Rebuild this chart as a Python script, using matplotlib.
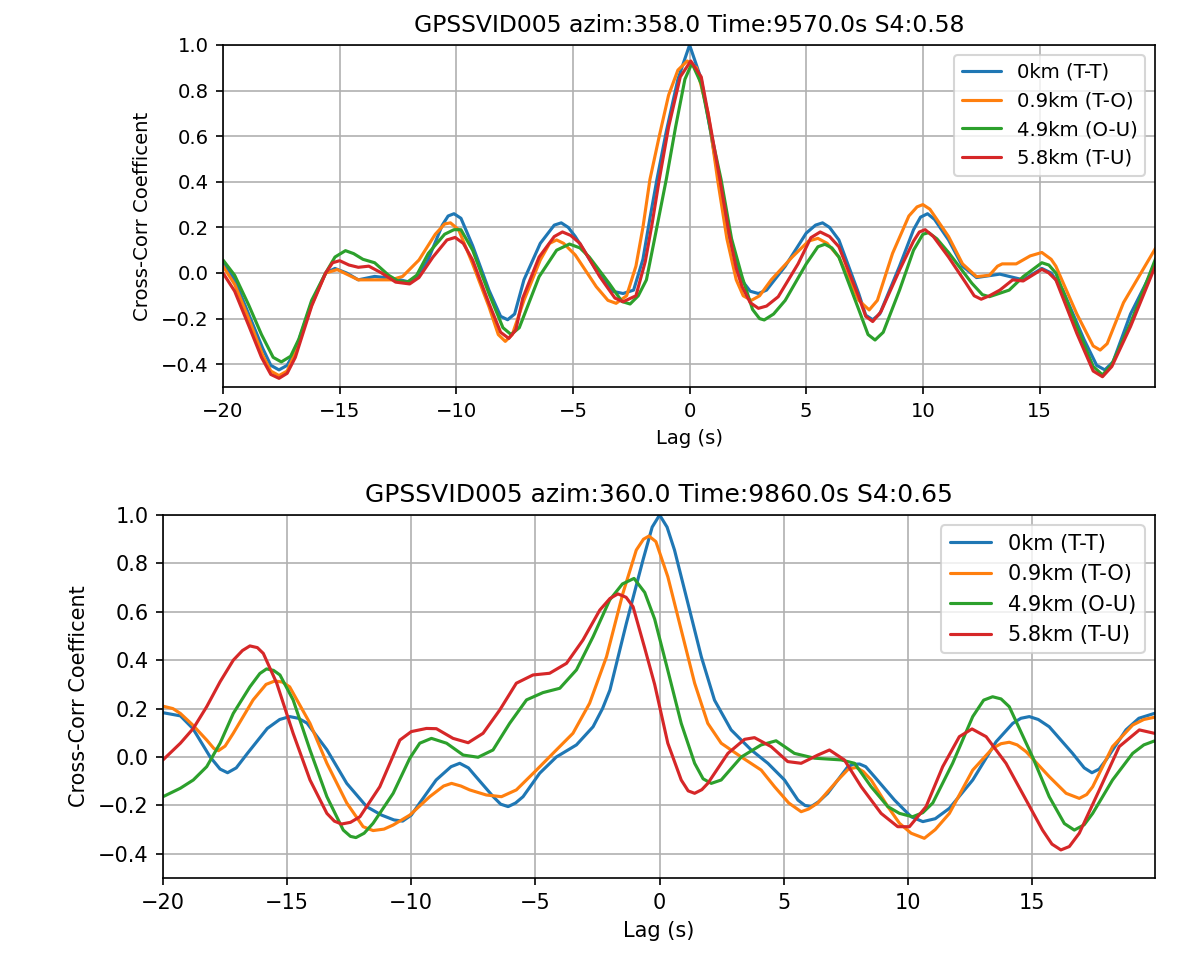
import matplotlib
matplotlib.use("Agg")
import matplotlib.pyplot as plt

labels = ["0km (T-T)", "0.9km (T-O)", "4.9km (O-U)", "5.8km (T-U)"]
colors = ["#1f77b4", "#ff7f0e", "#2ca02c", "#d62728"]

title_top = "GPSSVID005 azim:358.0 Time:9570.0s S4:0.58"
title_bot = "GPSSVID005 azim:360.0 Time:9860.0s S4:0.65"

# ---- top panel (lag s, coefficient) ----
top_tt = [(-20, 0.04), (-19.5, -0.03), (-18.9, -0.18), (-18.3, -0.33), (-17.95, -0.405), (-17.6, -0.425),
          (-17.25, -0.405), (-16.9, -0.34), (-16.2, -0.13), (-15.6, 0.0), (-15.2, 0.02), (-14.7, 0.0),
          (-14.2, -0.03), (-13.5, -0.015), (-12.6, -0.025), (-12.0, -0.04), (-11.6, -0.01), (-11.2, 0.06),
          (-10.6, 0.21), (-10.35, 0.25), (-10.1, 0.26), (-9.8, 0.24), (-9.3, 0.12), (-8.6, -0.075),
          (-8.1, -0.19), (-7.8, -0.205), (-7.5, -0.18), (-7.1, -0.03), (-6.4, 0.13), (-5.8, 0.21),
          (-5.5, 0.22), (-5.2, 0.2), (-4.9, 0.16), (-4.0, 0.013), (-3.3, -0.08), (-2.85, -0.09),
          (-2.4, -0.075), (-2.0, 0.06), (-1.7, 0.24), (-1.4, 0.41), (-1.0, 0.62), (-0.5, 0.85), (0.0, 1.0),
          (0.5, 0.85), (0.9, 0.62), (1.25, 0.41), (1.6, 0.2), (2.0, 0.04), (2.3, -0.04), (2.6, -0.08),
          (2.95, -0.09), (3.3, -0.075), (4.1, 0.03), (5.0, 0.175), (5.4, 0.21), (5.7, 0.22), (6.0, 0.2),
          (6.4, 0.145), (7.25, -0.09), (7.55, -0.185), (7.85, -0.205), (8.15, -0.18), (9.0, 0.03),
          (9.6, 0.19), (9.9, 0.245), (10.2, 0.26), (10.5, 0.235), (11.1, 0.145), (11.7, 0.03),
          (12.3, -0.02), (13.3, -0.005), (14.3, -0.03), (15.1, 0.02), (15.5, 0.0), (16.0, -0.075),
          (16.9, -0.29), (17.45, -0.405), (17.8, -0.425), (18.15, -0.39), (18.9, -0.18), (19.98, 0.04)]
top_to = [(-20, 0.03), (-19.5, -0.05), (-18.9, -0.2), (-18.3, -0.36), (-17.95, -0.43), (-17.6, -0.45),
          (-17.25, -0.43), (-16.9, -0.35), (-16.2, -0.14), (-15.6, 0.0), (-15.1, 0.015), (-14.6, -0.01),
          (-14.2, -0.03), (-12.8, -0.03), (-12.3, -0.015), (-11.6, 0.057), (-10.9, 0.17), (-10.5, 0.215),
          (-10.25, 0.22), (-9.9, 0.19), (-9.3, 0.04), (-8.6, -0.148), (-8.2, -0.27), (-7.9, -0.30),
          (-7.6, -0.27), (-7.1, -0.12), (-6.4, 0.057), (-6.0, 0.13), (-5.7, 0.145), (-5.4, 0.13),
          (-4.9, 0.079), (-4.0, -0.06), (-3.5, -0.12), (-3.15, -0.133), (-2.7, -0.1), (-2.3, 0.03),
          (-2.0, 0.2), (-1.7, 0.41), (-1.3, 0.6), (-0.9, 0.78), (-0.5, 0.89), (-0.1, 0.93), (0.3, 0.9),
          (0.8, 0.7), (1.2, 0.41), (1.6, 0.15), (2.0, -0.03), (2.3, -0.1), (2.65, -0.12), (3.0, -0.1),
          (3.5, -0.03), (4.4, 0.07), (5.1, 0.14), (5.5, 0.152), (5.9, 0.13), (6.4, 0.07), (7.25, -0.12),
          (7.7, -0.162), (8.05, -0.12), (8.7, 0.086), (9.4, 0.25), (9.75, 0.29), (10.0, 0.30), (10.3, 0.28),
          (11.1, 0.16), (11.7, 0.04), (12.3, -0.016), (12.85, -0.01), (13.2, 0.03), (13.4, 0.04),
          (14.0, 0.04), (14.6, 0.075), (15.1, 0.09), (15.5, 0.06), (15.7, 0.03), (16.6, -0.18),
          (17.3, -0.32), (17.6, -0.338), (17.9, -0.31), (18.6, -0.13), (19.98, 0.11)]
top_ou = [(-20, 0.057), (-19.5, -0.01), (-18.9, -0.14), (-18.35, -0.27), (-17.85, -0.37), (-17.5, -0.39),
          (-17.1, -0.365), (-16.75, -0.29), (-16.2, -0.12), (-15.6, 0.0), (-15.2, 0.07), (-14.75, 0.098),
          (-14.4, 0.085), (-14.0, 0.06), (-13.5, 0.045), (-12.9, -0.01), (-12.5, -0.035), (-12.1, -0.04),
          (-11.7, -0.01), (-11.2, 0.086), (-10.5, 0.17), (-10.1, 0.19), (-9.8, 0.19), (-9.3, 0.1),
          (-8.6, -0.09), (-8.0, -0.24), (-7.65, -0.27), (-7.3, -0.24), (-6.45, -0.016), (-5.7, 0.1),
          (-5.15, 0.127), (-4.7, 0.11), (-4.3, 0.07), (-3.45, -0.045), (-2.9, -0.125), (-2.55, -0.136),
          (-2.2, -0.1), (-1.85, -0.03), (-1.5, 0.15), (-1.0, 0.41), (-0.6, 0.64), (-0.2, 0.85), (0.1, 0.92),
          (0.5, 0.83), (0.95, 0.6), (1.35, 0.41), (1.8, 0.15), (2.25, -0.016), (2.7, -0.16), (3.0, -0.2),
          (3.2, -0.206), (3.6, -0.18), (4.1, -0.12), (5.0, 0.04), (5.5, 0.115), (5.8, 0.126), (6.1, 0.11),
          (6.4, 0.07), (7.25, -0.16), (7.65, -0.27), (7.95, -0.294), (8.3, -0.26), (9.0, -0.075),
          (9.6, 0.1), (10.0, 0.17), (10.25, 0.177), (10.6, 0.15), (11.1, 0.09), (12.1, -0.045),
          (12.55, -0.095), (12.85, -0.104), (13.7, -0.075), (14.3, -0.016), (15.1, 0.045), (15.4, 0.035),
          (15.7, 0.0), (16.6, -0.235), (17.3, -0.41), (17.7, -0.447), (18.1, -0.4), (18.9, -0.22),
          (19.98, 0.064)]
top_tu = [(-20, 0.0), (-19.5, -0.08), (-18.9, -0.23), (-18.35, -0.37), (-17.95, -0.445), (-17.6, -0.462),
          (-17.25, -0.44), (-16.9, -0.37), (-16.2, -0.145), (-15.6, 0.0), (-15.3, 0.045), (-15.0, 0.054),
          (-14.6, 0.035), (-14.2, 0.025), (-13.75, 0.03), (-13.2, 0.0), (-12.6, -0.04), (-12.0, -0.048),
          (-11.6, -0.02), (-11.0, 0.07), (-10.4, 0.145), (-10.05, 0.156), (-9.7, 0.13), (-9.3, 0.057),
          (-8.6, -0.133), (-8.1, -0.26), (-7.75, -0.287), (-7.45, -0.25), (-7.15, -0.11), (-6.45, 0.07),
          (-5.8, 0.16), (-5.45, 0.18), (-5.1, 0.165), (-4.7, 0.13), (-3.85, -0.016), (-3.2, -0.11),
          (-2.85, -0.126), (-2.3, -0.1), (-1.9, 0.05), (-1.6, 0.22), (-1.3, 0.41), (-0.9, 0.64),
          (-0.4, 0.86), (0.05, 0.93), (0.5, 0.86), (0.9, 0.64), (1.3, 0.41), (1.7, 0.17), (2.0, 0.02),
          (2.25, -0.06), (2.6, -0.13), (2.95, -0.155), (3.3, -0.145), (3.8, -0.104), (4.65, 0.04),
          (5.2, 0.155), (5.6, 0.18), (6.0, 0.16), (6.4, 0.115), (7.25, -0.104), (7.55, -0.19),
          (7.85, -0.213), (8.2, -0.17), (9.0, 0.013), (9.6, 0.14), (9.85, 0.18), (10.1, 0.19),
          (10.45, 0.16), (11.1, 0.07), (11.85, -0.045), (12.2, -0.1), (12.5, -0.115), (12.85, -0.1),
          (13.3, -0.075), (13.85, -0.03), (14.3, -0.035), (15.1, 0.016), (15.4, 0.0), (15.7, -0.03),
          (16.6, -0.265), (17.3, -0.43), (17.7, -0.455), (18.1, -0.41), (18.9, -0.235), (19.98, 0.035)]

# ---- bottom panel ----
bot_tt = [(-20, 0.183), (-19.3, 0.17), (-18.8, 0.118), (-18.1, 0.0), (-17.7, -0.05), (-17.4, -0.065),
          (-17.05, -0.045), (-16.6, 0.015), (-15.8, 0.118), (-15.3, 0.155), (-14.9, 0.167), (-14.55, 0.16),
          (-14.2, 0.14), (-13.4, 0.03), (-12.6, -0.109), (-11.8, -0.205), (-11.2, -0.24), (-10.7, -0.26),
          (-10.35, -0.265), (-10.0, -0.24), (-9.66, -0.19), (-9.0, -0.095), (-8.4, -0.04), (-8.05, -0.026),
          (-7.7, -0.045), (-7.4, -0.081), (-6.7, -0.164), (-6.4, -0.195), (-6.1, -0.205), (-5.8, -0.19),
          (-5.5, -0.164), (-4.83, -0.067), (-4.16, 0.0), (-3.35, 0.05), (-2.68, 0.125), (-2.3, 0.2),
          (-2.0, 0.277), (-1.34, 0.552), (-0.67, 0.814), (-0.3, 0.95), (0.0, 1.0), (0.3, 0.95),
          (0.6, 0.855), (1.14, 0.635), (1.68, 0.414), (2.21, 0.235), (2.88, 0.112), (3.69, 0.029),
          (4.36, -0.026), (5.03, -0.095), (5.57, -0.178), (5.85, -0.2), (6.1, -0.205), (6.4, -0.185),
          (6.77, -0.15), (7.58, -0.04), (7.8, -0.03), (8.05, -0.029), (8.3, -0.04), (8.65, -0.081),
          (9.46, -0.178), (10.13, -0.247), (10.6, -0.267), (11.1, -0.255), (11.67, -0.212), (12.61, -0.095),
          (13.55, 0.063), (14.22, 0.139), (14.55, 0.16), (14.89, 0.167), (15.25, 0.155), (15.69, 0.125),
          (16.63, 0.015), (17.1, -0.045), (17.41, -0.065), (17.7, -0.05), (17.98, -0.012), (18.78, 0.112),
          (19.3, 0.16), (19.92, 0.18)]
bot_to = [(-20, 0.21), (-19.6, 0.2), (-19.3, 0.18), (-18.8, 0.132), (-18.24, 0.07), (-17.95, 0.035),
          (-17.77, 0.026), (-17.5, 0.045), (-17.17, 0.098), (-16.37, 0.236), (-15.85, 0.3), (-15.5, 0.314),
          (-15.2, 0.31), (-14.9, 0.29), (-14.08, 0.139), (-13.4, -0.026), (-12.6, -0.19), (-11.94, -0.288),
          (-11.54, -0.304), (-11.1, -0.298), (-10.73, -0.281), (-10.06, -0.24), (-9.26, -0.164),
          (-8.7, -0.12), (-8.38, -0.109), (-8.0, -0.12), (-7.65, -0.136), (-6.98, -0.157), (-6.37, -0.164),
          (-5.77, -0.136), (-4.96, -0.054), (-4.16, 0.029), (-3.49, 0.098), (-2.82, 0.222), (-2.14, 0.414),
          (-1.48, 0.676), (-0.94, 0.855), (-0.65, 0.9), (-0.43, 0.913), (-0.15, 0.89), (0.33, 0.745),
          (0.87, 0.525), (1.41, 0.305), (1.94, 0.139), (2.48, 0.057), (3.29, 0.0), (4.09, -0.054),
          (4.63, -0.123), (5.2, -0.19), (5.7, -0.226), (6.0, -0.215), (6.37, -0.19), (7.18, -0.095),
          (7.6, -0.05), (7.92, -0.043), (8.2, -0.06), (8.52, -0.095), (9.19, -0.205), (9.66, -0.274),
          (10.13, -0.315), (10.66, -0.336), (11.1, -0.3), (11.67, -0.233), (12.61, -0.054), (13.41, 0.036),
          (13.75, 0.055), (14.08, 0.061), (14.4, 0.05), (14.76, 0.022), (15.69, -0.081), (16.37, -0.15),
          (16.9, -0.171), (17.2, -0.155), (17.44, -0.123), (18.24, 0.043), (19.05, 0.132), (19.5, 0.155),
          (19.92, 0.164)]
bot_ou = [(-20, -0.164), (-19.3, -0.129), (-18.78, -0.095), (-18.24, -0.04), (-17.7, 0.057),
          (-17.17, 0.18), (-16.5, 0.29), (-16.1, 0.345), (-15.83, 0.364), (-15.55, 0.358), (-15.29, 0.339),
          (-14.76, 0.236), (-14.08, 0.029), (-13.4, -0.164), (-12.74, -0.302), (-12.45, -0.328),
          (-12.23, -0.333), (-11.9, -0.315), (-11.54, -0.274), (-10.73, -0.15), (-10.06, -0.005),
          (-9.66, 0.057), (-9.19, 0.077), (-8.58, 0.057), (-7.91, 0.008), (-7.31, -0.001), (-6.71, 0.029),
          (-6.04, 0.139), (-5.36, 0.236), (-4.7, 0.266), (-4.02, 0.284), (-3.35, 0.36), (-2.68, 0.497),
          (-2.01, 0.649), (-1.5, 0.715), (-1.03, 0.738), (-0.6, 0.68), (-0.2, 0.57), (0.3, 0.37),
          (0.87, 0.139), (1.41, -0.026), (1.75, -0.09), (2.08, -0.109), (2.48, -0.095), (3.29, 0.0),
          (4.09, 0.05), (4.69, 0.067), (5.43, 0.015), (6.24, -0.005), (7.31, -0.012), (7.85, -0.026),
          (8.52, -0.123), (9.19, -0.205), (9.66, -0.233), (10.19, -0.247), (10.6, -0.23), (11.0, -0.19),
          (11.8, -0.026), (12.61, 0.167), (13.05, 0.235), (13.41, 0.249), (13.75, 0.24), (14.08, 0.208),
          (15.02, 0.0), (15.69, -0.164), (16.3, -0.275), (16.7, -0.302), (17.1, -0.28), (17.44, -0.233),
          (18.24, -0.095), (19.05, 0.015), (19.5, 0.05), (19.92, 0.066)]
bot_tu = [(-20, -0.012), (-19.3, 0.057), (-18.78, 0.118), (-18.24, 0.208), (-17.7, 0.311), (-17.17, 0.4),
          (-16.8, 0.44), (-16.5, 0.459), (-16.2, 0.452), (-15.96, 0.428), (-15.42, 0.305), (-14.76, 0.098),
          (-14.08, -0.095), (-13.4, -0.233), (-13.1, -0.265), (-12.81, -0.277), (-12.45, -0.27),
          (-12.07, -0.247), (-11.27, -0.123), (-10.46, 0.07), (-10.0, 0.105), (-9.39, 0.118),
          (-8.99, 0.117), (-8.32, 0.077), (-7.71, 0.059), (-7.11, 0.098), (-6.44, 0.194), (-5.77, 0.305),
          (-5.1, 0.339), (-4.43, 0.346), (-3.75, 0.387), (-3.09, 0.483), (-2.41, 0.607), (-2.0, 0.655),
          (-1.68, 0.674), (-1.35, 0.66), (-1.07, 0.621), (-0.6, 0.45), (-0.2, 0.30), (0.33, 0.057),
          (0.87, -0.095), (1.15, -0.14), (1.41, -0.15), (1.7, -0.135), (1.94, -0.109), (2.75, 0.015),
          (3.42, 0.073), (3.82, 0.08), (4.49, 0.043), (5.16, -0.019), (5.7, -0.026), (6.37, 0.008),
          (6.84, 0.029), (7.44, -0.012), (8.12, -0.123), (8.92, -0.233), (9.59, -0.288), (10.06, -0.288),
          (10.73, -0.205), (11.4, -0.04), (12.07, 0.084), (12.58, 0.116), (13.15, 0.084), (13.95, -0.026),
          (14.76, -0.178), (15.42, -0.302), (15.8, -0.36), (16.16, -0.384), (16.5, -0.37), (16.9, -0.315),
          (17.71, -0.136), (18.51, 0.043), (19.32, 0.112), (19.92, 0.098)]

fig = plt.figure(figsize=(8, 6.46), dpi=150)

def panel(rect, series, title, scale):
    ax = fig.add_axes(rect)
    for s, lab, c in zip(series, labels, colors):
        xs = [p[0] for p in s]
        ys = [p[1] for p in s]
        ax.plot(xs, ys, color=c, lw=1.5, label=lab,
                solid_joinstyle="round", solid_capstyle="round")
    ax.set_xlim(-20, 19.95)
    ax.set_ylim(-0.5, 1.0)
    ax.grid(True)
    ax.set_title(title, fontsize=12 * scale)
    ax.set_xlabel("Lag (s)", fontsize=10 * scale)
    ax.set_ylabel("Cross-Corr Coefficent", fontsize=10 * scale)
    ax.tick_params(labelsize=10 * scale)
    ax.legend(loc="upper right", fontsize=10 * scale)
    return ax

panel([223 / 1200, 1 - 387 / 969, 932 / 1200, 342 / 969],
      [top_tt, top_to, top_ou, top_tu], title_top, 0.94)
panel([163 / 1200, 1 - 878 / 969, 992 / 1200, 363 / 969],
      [bot_tt, bot_to, bot_ou, bot_tu], title_bot, 1.0)

fig.savefig("out.png", dpi=150)
